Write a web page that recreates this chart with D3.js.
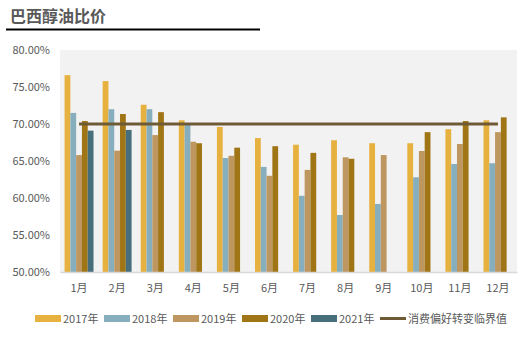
<!DOCTYPE html>
<html><head><meta charset="utf-8">
<script src="https://cdn.jsdelivr.net/npm/d3@7"></script>
<style>body{margin:0;background:#fff;}svg{display:block;font-family:"Noto Sans CJK SC","Microsoft YaHei",sans-serif;}</style>
</head><body><div id="c"></div>
<script>
const months = ["1月","2月","3月","4月","5月","6月","7月","8月","9月","10月","11月","12月"];
const seriesNames = ["2017年","2018年","2019年","2020年","2021年"];
const s2017 = [76.6,75.8,72.6,70.5,69.6,68.1,67.2,67.8,67.4,67.4,69.3,70.5];
const s2018 = [71.5,72.0,72.0,69.9,65.4,64.2,60.3,57.7,59.2,62.8,64.6,64.7];
const s2019 = [65.8,66.4,68.5,67.6,65.7,63.0,63.8,65.5,65.8,66.35,67.3,68.9];
const s2020 = [70.4,71.35,71.6,67.4,66.8,67.0,66.1,65.3,null,68.9,70.4,70.9];
const s2021 = [69.1,69.2,null,null,null,null,null,null,null,null,null,null];
const threshold = [70,70,70,70,70,70,70,70,70,70,70,70];
const lineName = "消费偏好转变临界值";
const yTicks = [50,55,60,65,70,75,80];
const colors = ["#E6B13F","#87AEBD","#BD9660","#A07516","#476E7B"];
const lineColor = "#6E5A35";

const W=521,H=339;
const svg=d3.select("#c").append("svg").attr("width",W).attr("height",H);
const margin={left:60,right:4,top:50,bottom:67};
const x0=d3.scaleBand().domain(months).range([60,517]).paddingInner(0.24).paddingOuter(0.12);
const x1=d3.scaleBand().domain(seriesNames).range([0,x0.bandwidth()]);
const y=d3.scaleLinear().domain([50,80]).range([272,50]);

// title
svg.append("text").attr("x",10).attr("y",22).attr("font-size",16).attr("font-weight","bold").attr("fill","#595959").text("巴西醇油比价");
svg.append("line").attr("x1",6).attr("x2",260).attr("y1",29.5).attr("y2",29.5).attr("stroke","#000").attr("stroke-width",2);

// plot bg
svg.append("rect").attr("x",60).attr("y",50).attr("width",457).attr("height",222).attr("fill","#F2F2F2");

// y axis labels
const ya=svg.append("g").attr("transform","translate(60,0)").call(d3.axisLeft(y).tickValues(yTicks).tickSize(0).tickPadding(10).tickFormat(d=>d.toFixed(2)+"%"));
ya.select(".domain").remove();
ya.selectAll("text").attr("font-size",11).attr("fill","#595959").attr("font-family","'Noto Sans CJK SC',sans-serif");

const allSeries=[s2017,s2018,s2019,s2020,s2021];
allSeries.forEach((arr,i)=>{
  svg.append("g").selectAll("rect").data(months.map((m,j)=>({m,v:arr[j]})).filter(d=>d.v!=null)).join("rect")
    .attr("x",d=>x0(d.m)+x1(seriesNames[i]))
    .attr("width",x1.bandwidth())
    .attr("y",d=>y(d.v))
    .attr("height",d=>y(50)-y(d.v))
    .attr("fill",colors[i]);
});

// x axis
const xa=svg.append("g").attr("transform","translate(0,272)").call(d3.axisBottom(x0).tickSize(0).tickPadding(12));
xa.select(".domain").attr("stroke","#D9D9D9").attr("stroke-width",1.5);
xa.selectAll("text").attr("font-size",11).attr("fill","#595959").attr("font-family","'Noto Sans CJK SC',sans-serif");

// threshold line
const line=d3.line().x((d,i)=>x0(months[i])+x0.bandwidth()/2).y(d=>y(d));
svg.append("path").datum(threshold).attr("d",line).attr("fill","none").attr("stroke",lineColor).attr("stroke-width",3);

// legend
const lg=svg.append("g");
const legX=[35,104,173,242,311];
seriesNames.forEach((n,i)=>{
  lg.append("rect").attr("x",legX[i]).attr("y",315).attr("width",26).attr("height",7).attr("fill",colors[i]);
  lg.append("text").attr("x",legX[i]+28).attr("y",322.5).attr("font-size",11).attr("fill","#595959").text(n);
});
lg.append("line").attr("x1",380).attr("x2",406).attr("y1",318.5).attr("y2",318.5).attr("stroke",lineColor).attr("stroke-width",3);
lg.append("text").attr("x",408).attr("y",322.5).attr("font-size",11).attr("fill","#595959").text(lineName);
</script></body></html>
